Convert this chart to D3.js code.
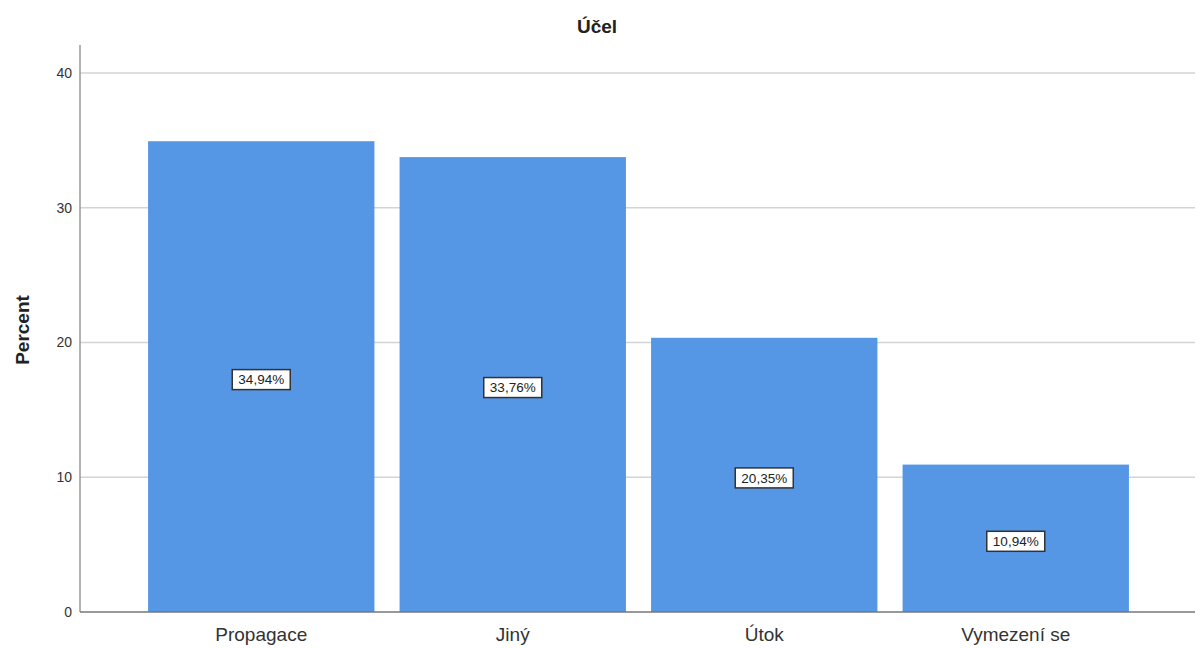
<!DOCTYPE html>
<html>
<head>
<meta charset="utf-8">
<script src="https://cdn.jsdelivr.net/npm/d3@7"></script>
<style>
  body { margin: 0; background: #fff; }
  svg { font-family: Arial, "Liberation Sans", sans-serif; }
</style>
</head>
<body>
<div id="chart"></div>
<script>
// chart data
var categories = ["Propagace", "Jiný", "Útok", "Vymezení se"];
var percents = [34.94, 33.76, 20.35, 10.94];
var labels = ["34,94%", "33,76%", "20,35%", "10,94%"];
var yTicks = [0, 10, 20, 30, 40];

var width = 1200, height = 648;
var plotLeft = 80, plotRight = 1195, plotTop = 45, plotBottom = 612;

var svg = d3.select("#chart").append("svg")
    .attr("width", width)
    .attr("height", height);

var x = d3.scaleBand()
    .domain(categories)
    .range([135.5, 1141.5])
    .paddingInner(0.1)
    .paddingOuter(0.05);

var y = d3.scaleLinear()
    .domain([0, 42.08])
    .range([plotBottom, plotTop]);

// gridlines
svg.append("g").selectAll("line")
    .data(yTicks.filter(function(t) { return t > 0; }))
    .enter().append("line")
    .attr("x1", plotLeft)
    .attr("x2", plotRight)
    .attr("y1", function(d) { return y(d); })
    .attr("y2", function(d) { return y(d); })
    .style("stroke", "#d4d4d4")
    .style("stroke-width", 1.5);

// bars
svg.append("g").selectAll("rect")
    .data(percents)
    .enter().append("rect")
    .attr("x", function(d, i) { return x(categories[i]); })
    .attr("y", function(d) { return y(d); })
    .attr("width", x.bandwidth())
    .attr("height", function(d) { return y(0) - y(d); })
    .style("fill", "#5596e5");

// y axis
var yAxis = svg.append("g")
    .attr("transform", "translate(" + plotLeft + ",0)")
    .call(d3.axisLeft(y).tickValues(yTicks).tickSize(0).tickPadding(8));
yAxis.select(".domain").remove();
yAxis.selectAll("text")
    .style("font-size", "14px")
    .style("fill", "#333");

svg.append("line")
    .attr("x1", plotLeft).attr("x2", plotLeft)
    .attr("y1", plotTop).attr("y2", plotBottom)
    .style("stroke", "#999")
    .style("stroke-width", 1.5);

// x axis
var xAxis = svg.append("g")
    .attr("transform", "translate(0," + plotBottom + ")")
    .call(d3.axisBottom(x).tickSize(0).tickPadding(16));
xAxis.select(".domain").remove();
xAxis.selectAll("text")
    .style("font-size", "19px")
    .style("fill", "#333");

svg.append("line")
    .attr("x1", plotLeft).attr("x2", plotRight)
    .attr("y1", plotBottom).attr("y2", plotBottom)
    .style("stroke", "#777")
    .style("stroke-width", 1.5);

// value labels, sitting a bit below the bar midpoint
var lab = svg.append("g").selectAll("g")
    .data(percents)
    .enter().append("g")
    .attr("transform", function(d, i) {
        return "translate(" + (x(categories[i]) + x.bandwidth() / 2) + "," + (y(d / 2) + 3) + ")";
    });

lab.append("rect")
    .attr("x", -29)
    .attr("y", -10)
    .attr("width", 58)
    .attr("height", 20)
    .style("fill", "#fff")
    .style("stroke", "#333")
    .style("stroke-width", 1.5);

lab.append("text")
    .attr("text-anchor", "middle")
    .attr("dy", "0.36em")
    .style("font-size", "13.5px")
    .style("fill", "#222")
    .text(function(d, i) { return labels[i]; });

// title
svg.append("text")
    .attr("x", 597)
    .attr("y", 33)
    .attr("text-anchor", "middle")
    .style("font-size", "19px")
    .style("font-weight", "bold")
    .style("fill", "#222")
    .text("Účel");

// y axis title
svg.append("text")
    .attr("transform", "translate(29,330) rotate(-90)")
    .attr("text-anchor", "middle")
    .style("font-size", "19px")
    .style("font-weight", "bold")
    .style("fill", "#222")
    .text("Percent");
</script>
</body>
</html>
